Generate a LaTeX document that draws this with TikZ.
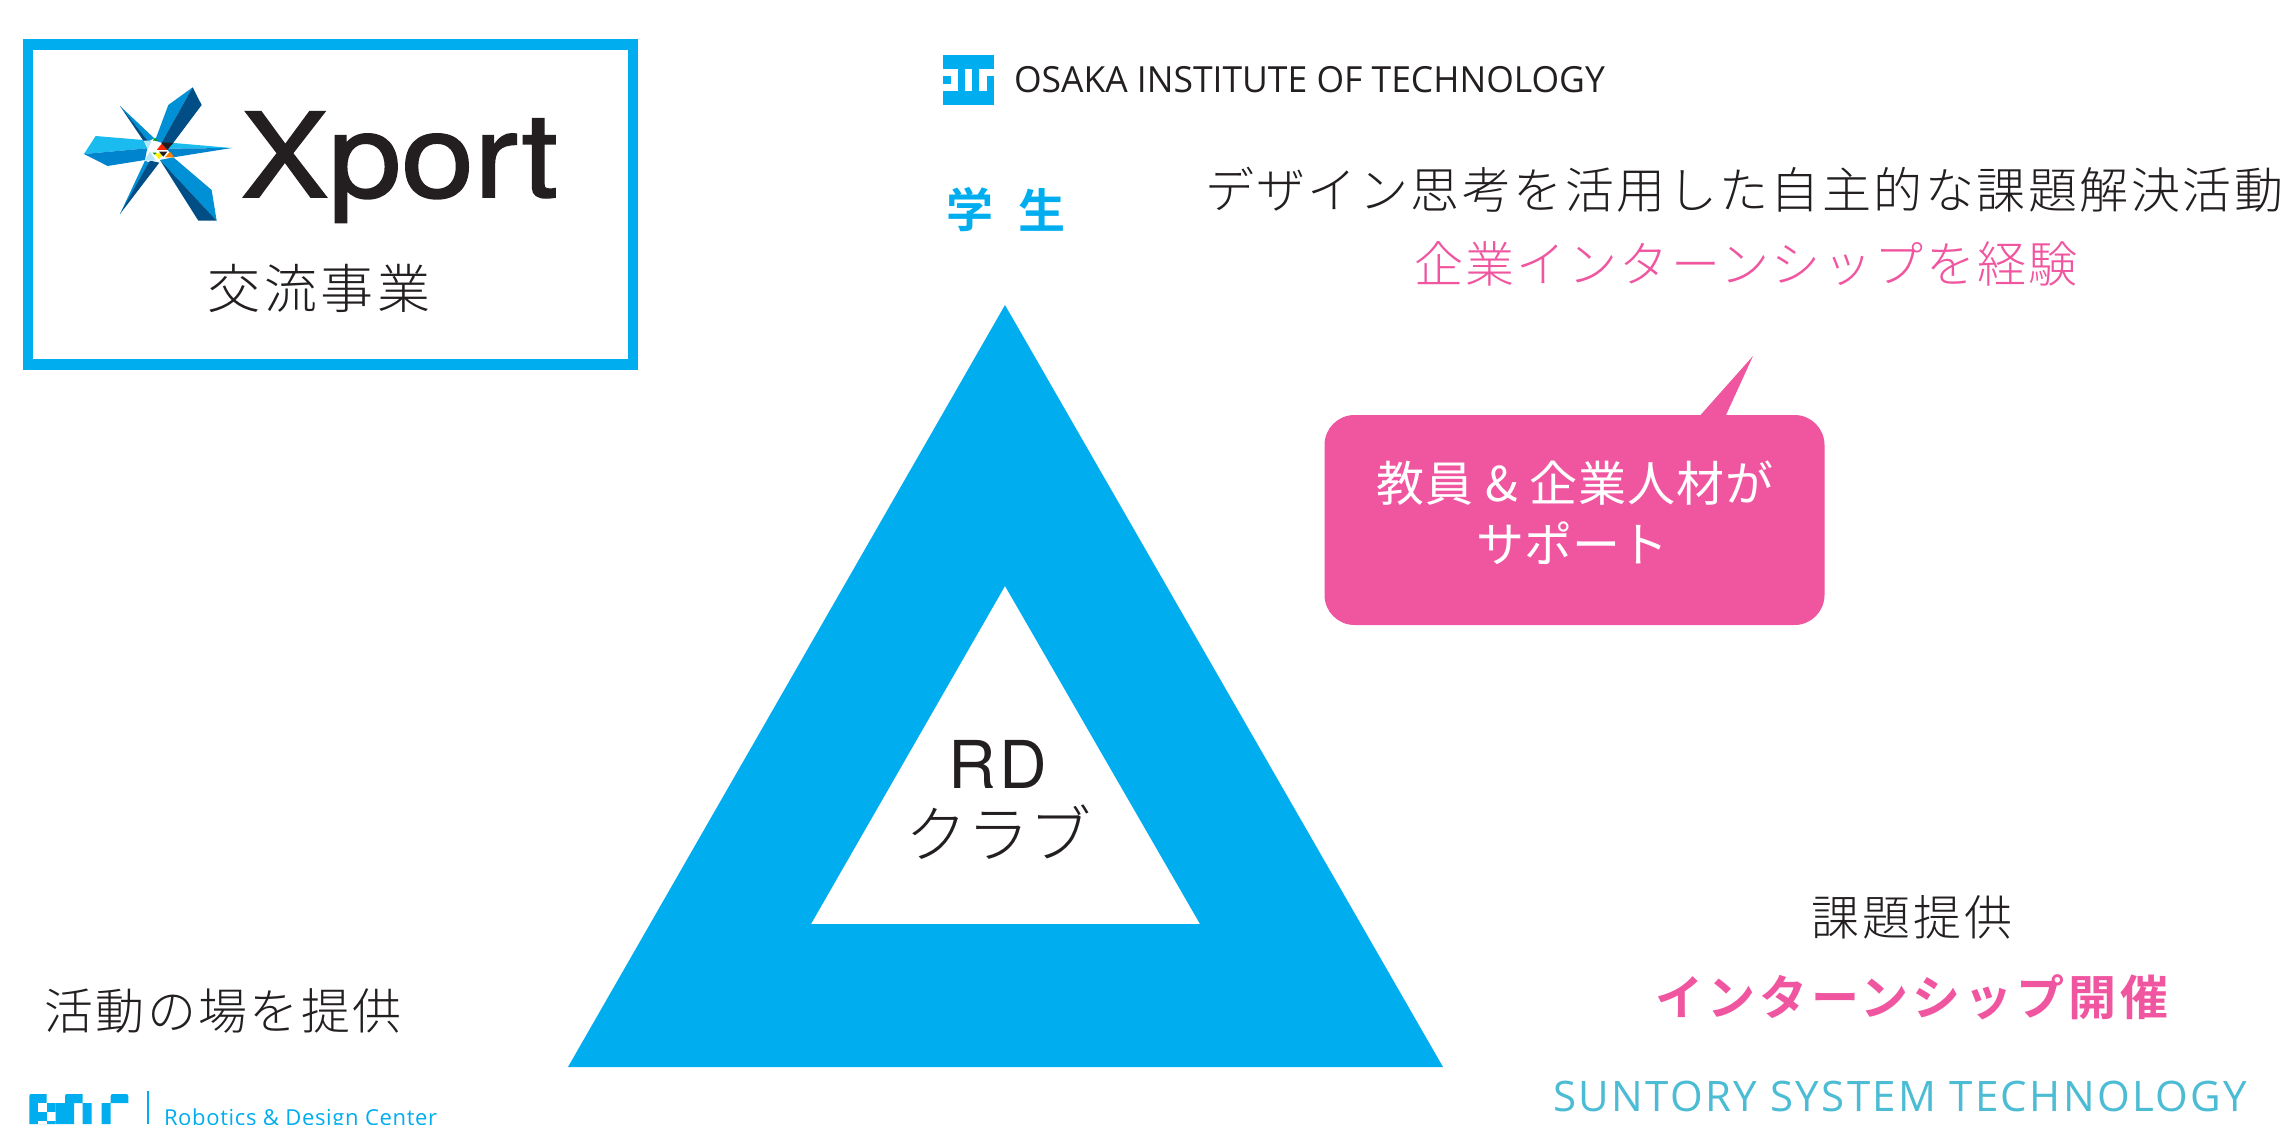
\documentclass[tikz,border=0pt]{standalone}
\usepackage{fontspec}
\setmainfont{Noto Sans CJK JP Light}[BoldFont={Noto Sans CJK JP Bold}]
\newfontfamily\reg{Noto Sans CJK JP}
\newfontfamily\heros[FakeStretch=1.12,FakeBold=1.6]{TeX Gyre Heros}
\newfontfamily\rdfont{TeX Gyre Heros}
\newfontfamily\oit[FakeStretch=0.985]{Open Sans}
\newfontfamily\sst{Open Sans}
\newfontfamily\rdc{Open Sans}
\newcommand{\fs}[2]{\fontsize{#1}{#2}\selectfont}
\newcommand{\lsp}[1]{\addfontfeature{LetterSpace=#1}}
\definecolor{cy}{HTML}{00AEEF}
\definecolor{pk}{HTML}{F056A0}
\definecolor{ink}{HTML}{231F20}
\definecolor{teal}{HTML}{4BBCD4}
\definecolor{ma}{HTML}{0090D5}
\definecolor{db}{HTML}{004E85}
\definecolor{lc}{HTML}{1ABCF0}
\definecolor{mb}{HTML}{0084CD}
\tikzset{
 txt/.style={inner sep=0pt,outer sep=0pt,anchor=center,text=ink}
}
\begin{document}
\begin{tikzpicture}[x=1pt,y=-1pt]
\useasboundingbox (0,0) rectangle (2290,1124);
\fill[white] (0,0) rectangle (2290,1124);
% Xport box
\draw[cy,line width=10.5pt] (28,44.5) rectangle (633,364.5);
% star logo
\begin{scope}[shift={(60,70)},x=0.3333pt,y=-0.3333pt]
\fill[lc] (107,198)--(72,252)--(262,235)--(250,210)--cycle;
\fill[mb] (72,252)--(143,288)--(255,270)--(262,235)--cycle;
\fill[lc] (515,234)--(330,218)--(320,236)--cycle;
\fill[mb] (515,234)--(340,262)--(320,236)--cycle;
\fill[ma] (398,52)--(325,105)--(285,212)--(305,218)--cycle;
\fill[db] (398,52)--(425,105)--(335,225)--(305,218)--cycle;
\fill[ma] (300,270)--(340,262)--(455,360)--(470,452)--cycle;
\fill[db] (300,270)--(415,452)--(470,452)--cycle;
\fill[ma] (180,108)--(283,205)--(265,214)--cycle;
\fill[db] (180,108)--(250,212)--(265,214)--cycle;
\fill[ma] (255,272)--(180,432)--(275,280)--cycle;
\fill[db] (180,432)--(298,278)--(270,272)--cycle;
\fill[white!70!cy] (253,212)--(275,212)--(264,236)--cycle;
\fill[white!70!cy] (253,272)--(287,272)--(270,245)--cycle;
\fill[white] (268,242)--(290,242)--(278,222)--cycle;
\fill[yellow] (283,250)--(310,250)--(297,268)--cycle;
\fill[orange] (315,262)--(343,262)--(330,245)--cycle;
\fill[red!70!orange] (290,240)--(322,240)--(306,220)--cycle;
\fill[ink] (303,218)--(340,218)--(322,240)--cycle;
\fill[ink] (297,245)--(322,245)--(310,260)--cycle;
\fill[green!60!black] (278,212)--(293,212)--(285,203)--cycle;
\fill[green!60!black] (278,248)--(290,248)--(284,254)--cycle;
\end{scope}
\node[txt,anchor=base west] (xport) at (241,197) {\heros\fs{117}{117}Xport};
\node[txt] (koryu) at (319,288) {\fs{53}{60}\lsp{7}交流事業};
% OIT logo
\fill[cy] (943,55) rectangle (994,105);
\fill[white] (943,69) rectangle (958,91);
\fill[cy] (943,76) rectangle (951,84);
\fill[white] (965,69) rectangle (972,91);
\fill[white] (979,69) rectangle (994,76);
\fill[white] (979,76) rectangle (987,91);
\node[txt,anchor=west] (oitname) at (1014,80) {\oit\fs{36}{40}OSAKA INSTITUTE OF TECHNOLOGY};
\node[txt,text=cy] (gaku) at (970,210) {\fs{47}{50}\bfseries 学};
\node[txt,text=cy] (sei) at (1042,210) {\fs{47}{50}\bfseries 生};
\node[txt] (design) at (1744,190) {\fs{49}{55}\lsp{5}デザイン思考を活用した自主的な課題解決活動};
\node[txt,text=pk] (intern) at (1746,264) {\fs{49}{55}\lsp{5}企業インターンシップを経験};
% triangle
\fill[cy,even odd rule] (1005,305)--(568,1067)--(1443,1067)--cycle (1005,586)--(811,924)--(1200,924)--cycle;
\node[txt] (rd) at (998,764) {\rdfont\fs{66}{70}\lsp{5}RD};
\node[txt] (club) at (998,832) {\fs{62}{70}クラブ};
% bubble
\fill[pk] (1354.5,415) -- (1700.5,415) -- (1753,356) -- (1726,415) -- (1794.5,415)
 arc[start angle=-90,end angle=0,x radius=30pt,y radius=-30pt] -- (1824.5,595)
 arc[start angle=0,end angle=90,x radius=30pt,y radius=-30pt] -- (1354.5,625)
 arc[start angle=90,end angle=180,x radius=30pt,y radius=-30pt] -- (1324.5,445)
 arc[start angle=180,end angle=270,x radius=30pt,y radius=-30pt] -- cycle;
\node[txt,text=white] (sup1) at (1575,483) {\reg\fs{48}{50}\lsp{2}教員 \& 企業人材が};
\node[txt,text=white] (sup2) at (1572,543) {\reg\fs{48}{50}サポート};
% right
\node[txt] (kadai) at (1912,917) {\fs{48}{55}\lsp{6}課題提供};
\node[txt,text=pk] (hold) at (1912,997) {\fs{48}{55}\bfseries\lsp{8}インターンシップ開催};
\node[txt,text=teal] (sst) at (1900,1096) {\sst\fs{42}{50}\lsp{5.6}SUNTORY SYSTEM TECHNOLOGY};
% left bottom
\node[txt] (katsudo) at (223,1011) {\fs{49}{55}\lsp{5}活動の場を提供};
% RDC logo
\begin{scope}[cy]
\fill (29.3,1124) -- (29.3,1096) arc[start angle=180,end angle=90,radius=2pt] -- (46.7,1094) -- (46.7,1103) -- (55.7,1103) -- (55.7,1124) -- cycle;
\fill[white] (38.3,1103) rectangle (46.7,1112);
\fill[white] (46.7,1112) rectangle (55.7,1121);
\fill[white] (38.3,1121) rectangle (46.7,1124);
\fill (55.7,1103) -- (65,1103) -- (65,1096) arc[start angle=180,end angle=90,radius=2pt] -- (82.7,1094) -- (82.7,1103) -- (91.7,1103) -- (91.7,1124) -- (82.7,1124) -- (82.7,1103) -- (74,1103) -- (74,1124) -- (55.7,1124) -- cycle;
\fill (101.7,1124) -- (101.7,1103) -- (110.7,1103) -- (110.7,1096) arc[start angle=180,end angle=90,radius=2pt] -- (126.3,1094) arc[start angle=90,end angle=0,radius=2pt] -- (128.3,1103) -- (110.7,1103) -- (110.7,1124) -- cycle;
\end{scope}
\draw[cy,line width=1.5pt] (148,1091) -- (148,1124);
\node[txt,text=cy,anchor=base west] (rdcname) at (164,1125) {\rdc\fs{22}{25}\lsp{3}Robotics \& Design Center};
\end{tikzpicture}
\end{document}
